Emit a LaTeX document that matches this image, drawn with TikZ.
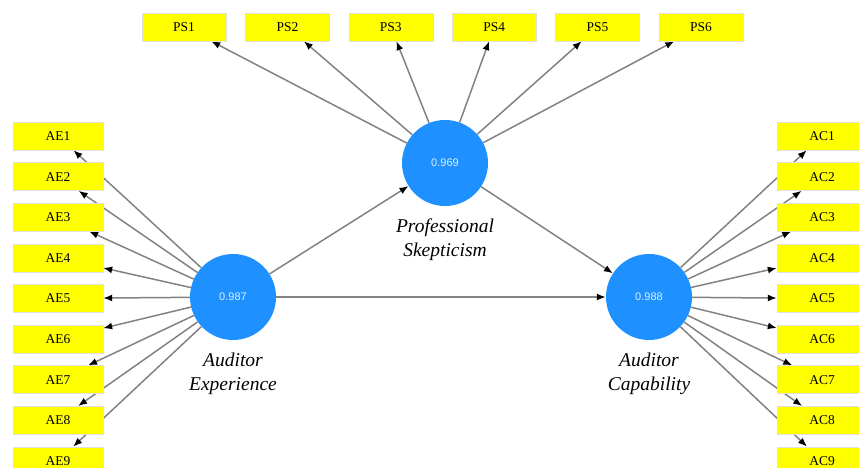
\documentclass[tikz,border=0pt]{standalone}
\usepackage{fontspec}
\setmainfont{Liberation Serif}
\newfontfamily\boxfont{Liberation Serif}
\newfontfamily\numfont{Liberation Sans}
\usetikzlibrary{arrows.meta,backgrounds}
\definecolor{lvblue}{RGB}{30,144,255}
\definecolor{boxyellow}{RGB}{255,255,0}
\definecolor{linkgray}{RGB}{130,130,130}

\begin{document}
\begin{tikzpicture}[x=1pt,y=-1pt,
  indicator/.style={fill=boxyellow, draw=black!12, line width=0.4pt, minimum width=90pt, minimum height=28pt, inner sep=0pt, font=\boxfont\fontsize{13.5}{15}\selectfont},
  latent/.style={circle, fill=lvblue, minimum size=86pt, inner sep=0pt, text=white!85!lvblue, font=\numfont\fontsize{11}{13}\selectfont},
  lvlabel/.style={align=center, font=\boxfont\itshape\fontsize{19.5}{24}\selectfont},
  link/.style={draw=linkgray, line width=1.5pt, -{Latex[length=9pt,width=7pt,color=black]}}]
\useasboundingbox (0,0) rectangle (859,468);

% latent variables
\node[latent] (ps) at (445,163) {0.969};
\node[latent] (exp) at (233,297) {0.987};
\node[latent] (cap) at (649,297) {0.988};
\node[lvlabel] (psl) at (445,240) {Professional\\Skepticism};
\node[lvlabel] (expl) at (233,374) {Auditor\\Experience};
\node[lvlabel] (capl) at (649,374) {Auditor\\Capability};

% indicators
\foreach \i in {1,...,9} {
  \node[indicator] (ae\i) at (58,{136+40.6*(\i-1)}) {AE\i};
  \node[indicator] (ac\i) at (822,{136+40.6*(\i-1)}) {AC\i};
}
\foreach \i in {1,...,6}
  \node[indicator, minimum width=84pt] (ps\i) at ({184+103.4*(\i-1)},27) {PS\i};

\begin{scope}[on background layer]
\foreach \i in {1,...,9} {
  \draw[link] (exp) -- (ae\i);
  \draw[link] (cap) -- (ac\i);
}
\foreach \i in {1,...,6}
  \draw[link] (ps) -- (ps\i);
% structural paths
\draw[link] (exp) -- (ps);
\draw[link] (exp) -- (cap);
\draw[link] (ps) -- (cap);
\end{scope}
\end{tikzpicture}
\end{document}
